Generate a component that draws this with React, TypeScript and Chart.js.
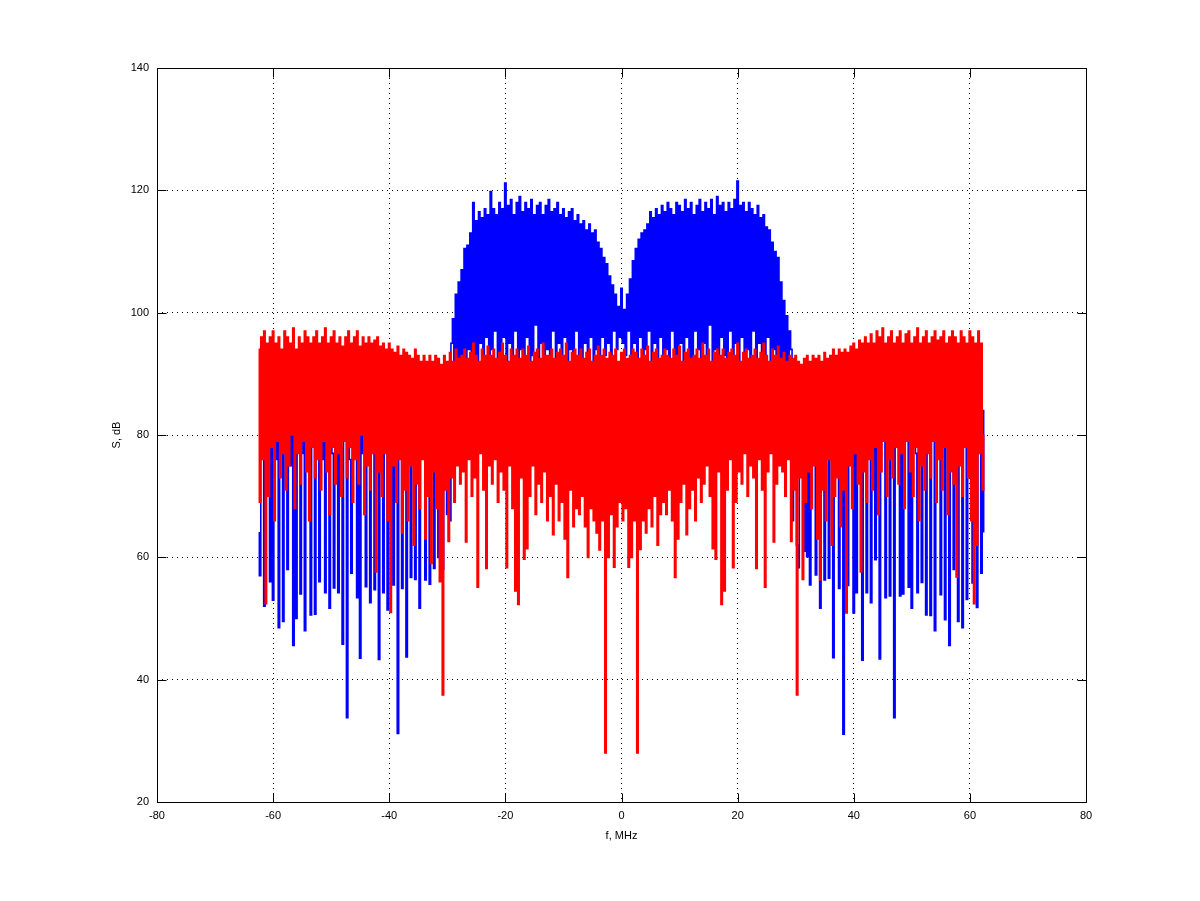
import React, { useEffect, useRef } from "react";
import { Chart, registerables } from "chart.js";

Chart.register(...registerables);

// Frequency bins of both spectra (MHz)
const F_START = -62.5;
const F_STEP = 0.25;

const X_TICKS = [-80, -60, -40, -20, 0, 20, 40, 60, 80];
const Y_TICKS = [20, 40, 60, 80, 100, 120, 140];

// Spectrum 1 (blue), dB, one value per bin
const BLUE_LEFT = [
  64, 57, 84, 79, 52, 85, 77, 83, 56, 81,
  53, 84, 76, 82, 48.5, 85, 78, 49.5, 83, 80,
  58, 84, 75, 82, 45.6, 85, 50, 80, 83, 54,
  77, 84, 48, 82, 79, 85, 50.6, 81, 84, 50.7,
  78, 83, 56, 85, 76, 82, 54.2, 84, 79, 51.7,
  83, 77, 55, 85, 80, 54.2, 82, 78, 45.8, 84,
  80, 33.8, 83, 76, 57.4, 85, 79, 82, 53.4, 84,
  43.5, 81, 77, 84, 55.2, 82, 79, 52.6, 85, 80,
  54.7, 83, 76, 43.3, 84, 79, 54.2, 82, 80, 51.4,
  84, 77, 83, 55.5, 81, 84, 31.2, 82, 78, 54.9,
  84, 80, 43.7, 83, 77, 56.7, 85, 79, 56.4, 82,
  80, 51.7, 84, 78, 83, 56.3, 81, 84, 55.6, 80,
  83, 58.2, 84, 79, 60, 82, 85, 58, 83, 86,
  67, 90, 66, 95,
];

const BLUE_MID = [
  99, 88, 103, 90, 105, 87, 107, 92, 110.5, 89,
  111, 94, 113, 90, 118, 93, 115, 88, 116.5, 95,
  115.5, 91, 117, 96, 116, 90, 119.8, 94, 117, 97,
  116, 89, 118, 93, 117, 96, 121.2, 91, 117.5, 95,
  118.5, 88, 116, 97, 118, 92, 119, 94, 116.5, 90,
  118, 96, 117, 89, 118.5, 93, 116, 98, 117.5, 91,
  118, 95, 116, 88, 117.5, 94, 118.5, 92, 116.5, 97,
  117, 90, 118, 95, 116, 89, 117, 96, 115.5, 92,
  116.5, 94, 117, 90, 115, 97, 116, 93, 114.5, 88,
  115, 95, 113.5, 91, 114.5, 96, 113, 92, 113.5, 94,
  111.5, 90, 110.5, 96, 109, 93, 108, 95, 106, 92,
  104.5, 97, 103, 94, 101, 96, 104, 95, 100.5, 93,
  103, 97, 105.5, 91, 108.5, 95, 110.5, 92, 112, 96,
  113, 90, 113.5, 94, 114.5, 97, 116.5, 91, 115.5, 95,
  117, 89, 116, 96, 117.5, 92, 116.5, 94, 118, 90,
  117, 97, 116, 93, 118, 88, 117.5, 95, 116.5, 91,
  118.5, 96, 117, 92, 118, 89, 116, 97, 117.5, 94,
  118.5, 90, 116.5, 95, 118, 92, 117, 98, 118.5, 91,
  116, 94, 119, 89, 117.5, 96, 118, 93, 116.5, 90,
  118, 97, 117, 92, 118.5, 95, 121.5, 91, 117.5, 96,
  118, 88, 116.5, 94, 118, 92, 117, 97, 116, 90,
  117.5, 95, 115.5, 93, 116, 89, 114, 96, 113.5, 91,
  111.5, 94, 110, 88, 109, 92, 105, 87, 102, 90,
  99.5, 86, 97,
];

const BLUE_RIGHT = [
  94, 66, 91, 84, 62, 58.3, 85, 80, 83, 61,
  84, 60.1, 82, 55.5, 85, 79, 83, 57.1, 81, 84,
  51.7, 78, 83, 56.3, 85, 80, 56.6, 82, 84, 43.6,
  79, 83, 85, 54.9, 81, 84, 31.1, 82, 78, 55.4,
  84, 80, 83, 50.9, 85, 54.2, 79, 83, 81, 43.2,
  84, 77, 54.2, 83, 80, 52.6, 85, 78, 59.6, 82,
  84, 43.4, 81, 79, 83, 53.4, 85, 80, 53.7, 82,
  84, 33.8, 83, 78, 81, 53.7, 84, 54, 80, 83,
  85, 55.1, 79, 51.7, 82, 84, 77, 54.2, 83, 80,
  55.9, 85, 81, 50.6, 84, 78, 50.5, 82, 85, 48,
  80, 83, 79, 53.9, 84, 81, 49.8, 85, 78, 45.6,
  83, 80, 58, 84, 77, 49.5, 82, 85, 48.5, 80,
  83, 53.1, 84, 79, 82, 55.8, 85, 80, 51.8, 83,
  78, 57.4, 84, 64.2,
];

// Spectrum 2 (red), dB, one value per bin
const RED = [
  94, 69, 96, 76, 97, 52.4, 95, 70, 96, 78, 97, 66, 95, 79, 96, 73, 94, 77, 97, 71,
  96, 75, 95, 80, 97.5, 68, 94, 77, 96, 72, 95, 79, 97, 74, 96, 66, 95, 78, 96, 73,
  97, 76, 95, 71, 96, 79, 97.5, 74, 95, 67, 96, 78, 97, 72, 95, 77, 96, 70, 94.5, 79,
  96, 73, 97, 78, 95, 69, 96, 76, 97, 72, 94.5, 80, 96, 67, 95, 75, 96, 71, 95, 77,
  95.5, 57.6, 96, 74, 94.5, 70, 95, 77, 94, 66, 95, 51, 94, 75, 93.5, 69, 94.5, 76, 93, 64,
  94, 71, 93.5, 66, 93, 75, 92.5, 62, 94, 72, 93, 68, 92, 76, 93, 63, 92, 70, 93, 59,
  92, 74, 93, 68, 92.5, 56, 91.5, 37.5, 93, 71, 92, 62.6, 93.5, 73, 92, 69, 94, 75, 92.5, 72,
  93, 74, 94, 62.5, 92.5, 76, 93.5, 70, 95, 73, 93, 55.1, 92, 77, 94, 71, 93, 58.2, 94.5, 75,
  93, 72, 94, 76, 92.5, 69, 93.5, 74, 95, 71, 93, 58.3, 92, 75, 94, 68, 93, 54.5, 94, 52.3,
  92.5, 73, 94, 59.7, 93, 61.4, 94.5, 70, 92, 75, 93.5, 67, 94, 72, 92.5, 69, 95, 74, 93, 66,
  93, 70, 94, 63.7, 92.5, 72, 93.5, 66, 94, 69, 93, 63, 95, 56.7, 92, 71, 93.5, 65, 94, 68,
  93, 67, 94, 70, 92.5, 65, 93.5, 60, 94, 68, 92, 66, 93, 64, 94.5, 61.2, 93, 66, 94, 28,
  92.5, 60, 93.5, 67, 93, 58.4, 94, 65, 92, 69, 93.5, 66, 94, 68, 92.5, 58.4, 93, 60, 94, 66,
  93.5, 28, 92.5, 61.3, 94, 66, 93, 64, 94.5, 68, 92, 65, 93.5, 70, 94, 62, 92.5, 67, 93, 69,
  94, 67, 93, 71, 92.5, 66, 94, 56.7, 93, 63, 94.5, 69, 92, 72, 93.5, 63.7, 94, 68, 92.5, 71,
  93, 66, 94, 73, 92.5, 69, 95, 72, 93, 75, 94, 70, 92, 61.4, 93.5, 59.7, 94, 74, 93, 52.3,
  94, 54.5, 92.5, 71, 93.5, 76, 94, 58.3, 93, 69, 95, 74, 92, 72, 93.5, 77, 94, 70, 92.5, 75,
  93, 73, 94, 58.2, 92.5, 76, 93.5, 71, 95, 55.1, 93, 74, 92, 77, 94, 62.5, 93, 72, 94.5, 75,
  92.5, 74, 93.5, 70, 92, 76, 93, 62.6, 92.5, 71, 93, 37.5, 92, 73, 91.5, 56.4, 92.5, 69, 93, 74,
  92, 68, 93, 75, 92.5, 63, 93, 56.3, 92, 71, 93.5, 66, 92.5, 76, 93, 62, 94, 70, 93, 73,
  94, 65, 93.5, 71, 94, 50.9, 93.5, 75, 94.5, 68, 95, 77, 94, 72, 95.5, 57.6, 95, 74, 96, 69,
  95, 76, 96.5, 71, 95, 78, 97, 67, 96, 74, 97.5, 79, 95, 70, 96, 76, 97, 73, 95, 78,
  96, 72, 97, 77, 95, 68, 96.5, 79, 97, 74, 95, 70, 96, 78, 97.5, 66, 95, 75, 96, 71,
  97, 77, 95, 73, 96, 79, 97, 69, 95.5, 76, 96, 71, 97, 78, 95, 67, 96, 74, 97, 72,
  96, 56.8, 95, 75, 97, 70, 96, 78, 95, 73, 97, 66, 96, 52.4, 95, 62, 97, 77, 95, 71,
  80,
];

const BLUE = [...BLUE_LEFT, ...BLUE_MID, ...BLUE_RIGHT];

const FONT = { family: "'Liberation Sans', Arial, sans-serif", size: 11 };
const TICK_LEN = 9;

const toPoints = (vals: number[]) =>
  vals.map((v, i) => ({ x: F_START + i * F_STEP, y: v }));

const framePlugin = {
  id: "frameAndInnerTicks",
  afterDatasetsDraw(chart: any) {
    const { ctx, chartArea: a, scales } = chart;
    const L = Math.round(a.left) + 0.5;
    const R = Math.round(a.right) + 0.5;
    const T = Math.round(a.top) + 0.5;
    const B = Math.round(a.bottom) + 0.5;
    ctx.save();
    ctx.setLineDash([]);
    ctx.strokeStyle = "#000";
    ctx.lineWidth = 1;
    ctx.beginPath();
    ctx.rect(L, T, R - L, B - T);
    ctx.stroke();
    ctx.beginPath();
    for (const v of X_TICKS) {
      const px = Math.round(scales.x.getPixelForValue(v)) + 0.5;
      ctx.moveTo(px, B);
      ctx.lineTo(px, B - TICK_LEN);
      ctx.moveTo(px, T);
      ctx.lineTo(px, T + TICK_LEN);
    }
    for (const v of Y_TICKS) {
      const py = Math.round(scales.y.getPixelForValue(v)) + 0.5;
      ctx.moveTo(L, py);
      ctx.lineTo(L + TICK_LEN, py);
      ctx.moveTo(R, py);
      ctx.lineTo(R - TICK_LEN, py);
    }
    ctx.stroke();
    ctx.restore();
  },
};

export default function App() {
  const ref = useRef<HTMLCanvasElement>(null);

  useEffect(() => {
    document.body.style.margin = "0";
    const canvas = ref.current;
    if (!canvas) return;
    const chart = new Chart(canvas, {
      type: "line",
      data: {
        datasets: [
          {
            label: "S2",
            data: toPoints(RED),
            borderColor: "#ff0000",
            borderWidth: 1.6,
            stepped: "middle",
            pointRadius: 0,
            fill: false,
            order: 0,
          },
          {
            label: "S1",
            data: toPoints(BLUE),
            borderColor: "#0000ff",
            borderWidth: 1.6,
            stepped: "middle",
            pointRadius: 0,
            fill: false,
            order: 1,
          },
        ],
      },
      plugins: [framePlugin],
      options: {
        animation: false,
        responsive: false,
        devicePixelRatio: 1,
        parsing: false,
        layout: { padding: { left: 0, top: 68, right: 114, bottom: 0 } },
        plugins: {
          legend: { display: false },
          tooltip: { enabled: false },
        },
        scales: {
          x: {
            type: "linear",
            min: -80,
            max: 80,
            afterBuildTicks: (s: any) => {
              s.ticks = X_TICKS.map((v) => ({ value: v }));
            },
            afterFit: (s: any) => {
              s.height = 99;
            },
            grid: { color: "#000", lineWidth: 1, drawTicks: false },
            border: { display: false, dash: [1, 4] },
            ticks: {
              color: "#000",
              font: FONT,
              padding: 7,
              maxRotation: 0,
              autoSkip: false,
            },
            title: {
              display: true,
              text: "f, MHz",
              color: "#000",
              font: FONT,
              padding: { top: 0, bottom: 58 },
            },
          },
          y: {
            type: "linear",
            min: 20,
            max: 140,
            afterBuildTicks: (s: any) => {
              s.ticks = Y_TICKS.map((v) => ({ value: v }));
            },
            afterFit: (s: any) => {
              s.width = 157;
            },
            grid: { color: "#000", lineWidth: 1, drawTicks: false },
            border: { display: false, dash: [1, 4] },
            ticks: {
              color: "#000",
              font: FONT,
              padding: 8,
              autoSkip: false,
            },
            title: {
              display: true,
              text: "S, dB",
              color: "#000",
              font: FONT,
              padding: { top: 110, bottom: 0 },
            },
          },
        },
      },
    } as any);
    return () => chart.destroy();
  }, []);

  return (
    <canvas
      ref={ref}
      width={1200}
      height={901}
      style={{ display: "block", width: "1200px", height: "901px" }}
    />
  );
}
